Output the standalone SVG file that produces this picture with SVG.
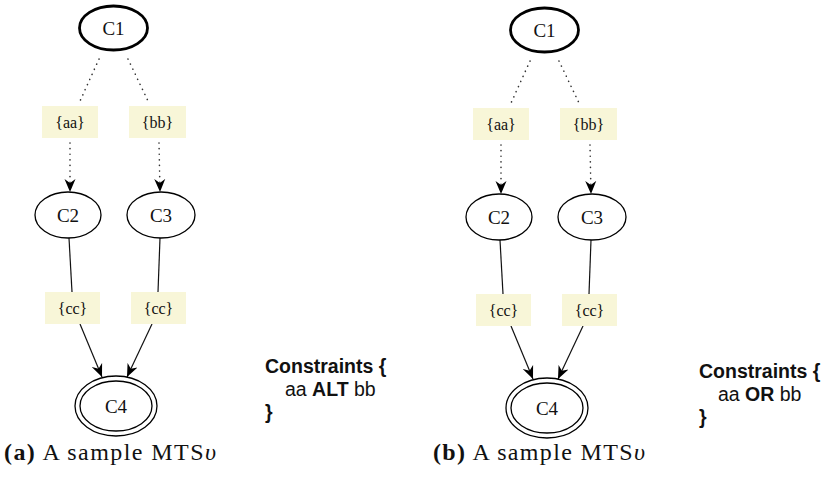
<svg xmlns="http://www.w3.org/2000/svg" width="827" height="481" viewBox="0 0 827 481">
<style>
.node{fill:#fff;stroke:#000;stroke-width:1.3}
.start{fill:#fff;stroke:#000;stroke-width:2.8}
.lbl{fill:#f8f6d8;stroke:none}
.nt{font-family:"Liberation Serif","Times New Roman",serif;font-size:19px;text-anchor:middle;fill:#111}
.et{font-family:"Liberation Serif","Times New Roman",serif;font-size:16px;text-anchor:middle;fill:#111}
.dot{stroke:#333;stroke-width:1.6;stroke-dasharray:0.1 5.5;stroke-linecap:round;fill:none}
.sol{stroke:#111;stroke-width:1.2;fill:none}
.con{font-family:"Liberation Sans",Arial,sans-serif;font-size:19.5px;fill:#111}
.cap{font-family:"Liberation Serif","Times New Roman",serif;font-size:24px;fill:#111}
</style>
<defs>
<marker id="vee" markerWidth="14" markerHeight="12" refX="13" refY="6" orient="auto" markerUnits="userSpaceOnUse">
<path d="M0,0.5 L13,6 L0,11.5 L4,6 Z" fill="#000"/>
</marker>
</defs>

<g id="panel-a">
<g id="connectors-a">
<line class="dot" x1="99" y1="59" x2="80" y2="101"/>
<line class="dot" x1="128" y1="59" x2="148" y2="101"/>
<line class="dot" x1="70" y1="143" x2="70" y2="192" marker-end="url(#vee)"/>
<line class="dot" x1="159" y1="143" x2="160" y2="192" marker-end="url(#vee)"/>
<line class="sol" x1="69" y1="238" x2="72" y2="292"/>
<line class="sol" x1="160" y1="238" x2="158" y2="292"/>
<line class="sol" x1="80" y1="324" x2="102" y2="377" marker-end="url(#vee)"/>
<line class="sol" x1="152" y1="324" x2="127" y2="377" marker-end="url(#vee)"/>
</g>
<g id="a-C1"><ellipse class="start" cx="113.5" cy="28" rx="34" ry="22"/><text class="nt" x="113.5" y="34.5">C1</text></g>
<g id="a-aa"><rect class="lbl" x="42" y="106" width="56" height="32"/><text class="et" x="70" y="127.5">{aa}</text></g>
<g id="a-bb"><rect class="lbl" x="129" y="106" width="57" height="32"/><text class="et" x="157.5" y="127.5">{bb}</text></g>
<g id="a-C2"><ellipse class="node" cx="68" cy="215" rx="33" ry="23"/><text class="nt" x="68" y="221.5">C2</text></g>
<g id="a-C3"><ellipse class="node" cx="161" cy="215" rx="34" ry="23"/><text class="nt" x="161" y="221.5">C3</text></g>
<g id="a-cc1"><rect class="lbl" x="45" y="292" width="55" height="32"/><text class="et" x="72.5" y="313.5">{cc}</text></g>
<g id="a-cc2"><rect class="lbl" x="131" y="292" width="55" height="32"/><text class="et" x="158.5" y="313.5">{cc}</text></g>
<g id="a-C4"><ellipse class="node" cx="116" cy="406" rx="41" ry="30"/><ellipse class="node" cx="116" cy="406" rx="36" ry="25"/><text class="nt" x="116" y="412.5">C4</text></g>
<g id="a-constraints">
<text class="con" x="265" y="373" font-weight="bold">Constraints {</text>
<text class="con" x="285" y="396">aa <tspan font-weight="bold">ALT</tspan> bb</text>
<text class="con" x="265" y="419" font-weight="bold">}</text>
</g>
<text class="cap" x="4" y="460" textLength="212" lengthAdjust="spacing"><tspan font-weight="bold">(a)</tspan> A sample MTS<tspan font-style="italic">υ</tspan></text>
</g>

<g id="panel-b">
<g id="connectors-b">
<line class="dot" x1="530" y1="61" x2="511" y2="103"/>
<line class="dot" x1="559" y1="61" x2="579" y2="103"/>
<line class="dot" x1="501" y1="145" x2="501" y2="194" marker-end="url(#vee)"/>
<line class="dot" x1="590" y1="145" x2="591" y2="194" marker-end="url(#vee)"/>
<line class="sol" x1="500" y1="240" x2="503" y2="294"/>
<line class="sol" x1="591" y1="240" x2="589" y2="294"/>
<line class="sol" x1="511" y1="326" x2="533" y2="379" marker-end="url(#vee)"/>
<line class="sol" x1="583" y1="326" x2="558" y2="379" marker-end="url(#vee)"/>
</g>
<g id="b-C1"><ellipse class="start" cx="544.5" cy="30" rx="34" ry="22"/><text class="nt" x="544.5" y="36.5">C1</text></g>
<g id="b-aa"><rect class="lbl" x="473" y="108" width="56" height="32"/><text class="et" x="501" y="129.5">{aa}</text></g>
<g id="b-bb"><rect class="lbl" x="560" y="108" width="57" height="32"/><text class="et" x="588.5" y="129.5">{bb}</text></g>
<g id="b-C2"><ellipse class="node" cx="499" cy="217" rx="33" ry="23"/><text class="nt" x="499" y="223.5">C2</text></g>
<g id="b-C3"><ellipse class="node" cx="592" cy="217" rx="34" ry="23"/><text class="nt" x="592" y="223.5">C3</text></g>
<g id="b-cc1"><rect class="lbl" x="476" y="294" width="55" height="32"/><text class="et" x="503.5" y="315.5">{cc}</text></g>
<g id="b-cc2"><rect class="lbl" x="562" y="294" width="55" height="32"/><text class="et" x="589.5" y="315.5">{cc}</text></g>
<g id="b-C4"><ellipse class="node" cx="547" cy="408" rx="41" ry="30"/><ellipse class="node" cx="547" cy="408" rx="36" ry="25"/><text class="nt" x="547" y="414.5">C4</text></g>
<g id="b-constraints">
<text class="con" x="699" y="378" font-weight="bold">Constraints {</text>
<text class="con" x="718" y="401">aa <tspan font-weight="bold">OR</tspan> bb</text>
<text class="con" x="699" y="424" font-weight="bold">}</text>
</g>
<text class="cap" x="433" y="460" textLength="212" lengthAdjust="spacing"><tspan font-weight="bold">(b)</tspan> A sample MTS<tspan font-style="italic">υ</tspan></text>
</g>
</svg>
